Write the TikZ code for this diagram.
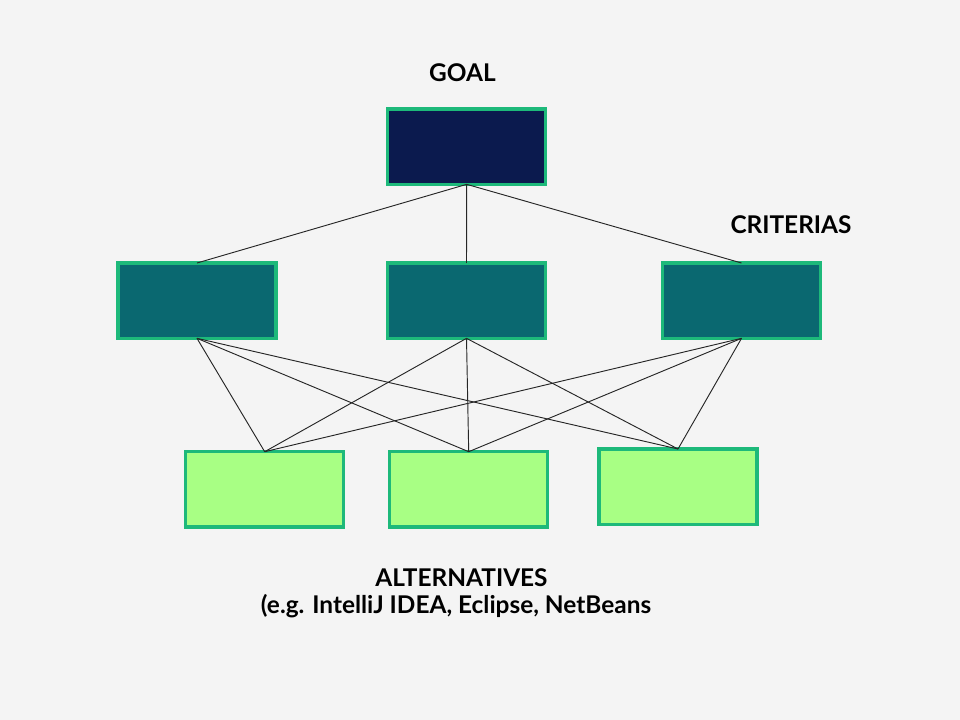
\documentclass[tikz,border=0pt]{standalone}
\usepackage{fontspec}
\setmainfont{Lato}
\begin{document}
\begin{tikzpicture}[x=0.75pt,y=-0.75pt,
  box/.style={draw=boxborder,line width=2.5pt,minimum width=118.5pt,minimum height=56.5pt,inner sep=0pt,outer sep=0pt,anchor=north west},
  lbl/.style={font=\bfseries\fontsize{18.3}{21}\selectfont,text=black,inner sep=0pt},
  conn/.style={draw=black!85,line width=0.7pt}]
\definecolor{bg}{HTML}{F4F4F4}
\definecolor{boxborder}{HTML}{1DB97A}
\definecolor{goalfill}{HTML}{0B1A4E}
\definecolor{critfill}{HTML}{0A6870}
\definecolor{altfill}{HTML}{A8FF84}
\fill[bg] (0,0) rectangle (960,720);
\useasboundingbox (0,0) rectangle (960,720);
\node[box,fill=goalfill] (g) at (387.7,109) {};
\node[box,fill=critfill] (c1) at (118,263) {};
\node[box,fill=critfill] (c2) at (387.5,263) {};
\node[box,fill=critfill] (c3) at (662.5,263) {};
\node[box,fill=altfill] (a1) at (185.7,451.7) {};
\node[box,fill=altfill] (a2) at (389.7,451.7) {};
\node[box,fill=altfill] (a3) at (599,449) {};
\foreach \c in {c1,c2,c3}{\draw[conn] (g.south) -- (\c.north);}
\foreach \c in {c1,c2,c3}{\foreach \a in {a1,a2,a3}{\draw[conn] (\c.south) -- (\a.north);}}
\node[lbl] (tg) at (462.5,73) {GOAL};
\node[lbl] (tc) at (791,225) {CRITERIAS};
\node[lbl] (ta) at (461.5,578) {ALTERNATIVES};
\node[lbl] (tb) at (456,606) {(e.g. IntelliJ IDEA, Eclipse, NetBeans};
\end{tikzpicture}
\end{document}
